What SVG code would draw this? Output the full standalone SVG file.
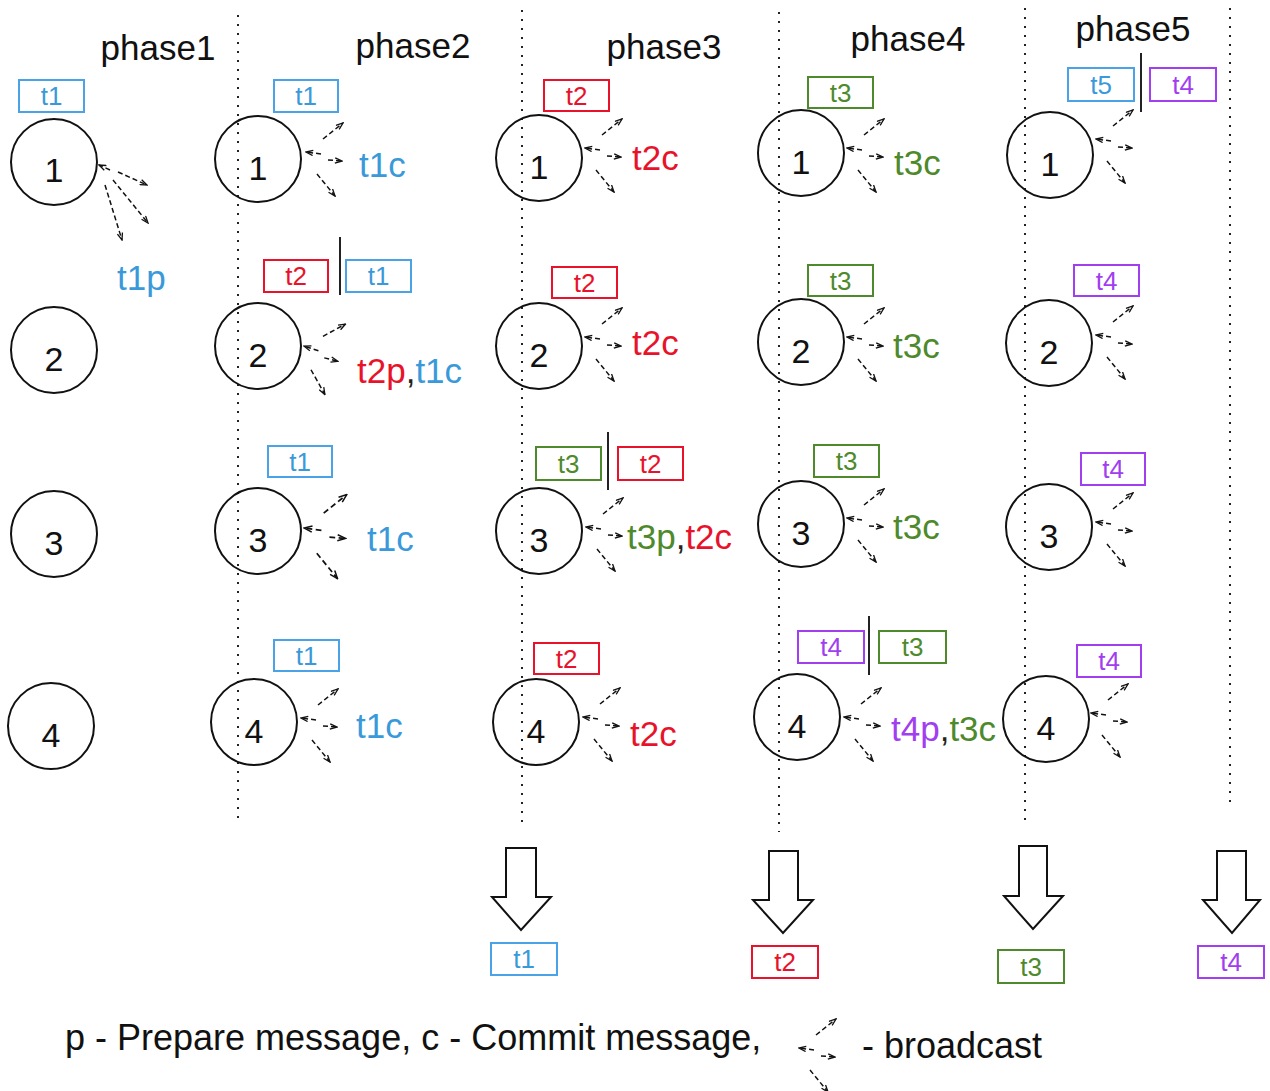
<svg xmlns="http://www.w3.org/2000/svg" width="1270" height="1091" viewBox="0 0 1270 1091">
  <style>
    text { font-family: "Liberation Sans", Arial, sans-serif; }
    .phase { font-size: 35px; fill: #111; text-anchor: middle; }
    .node circle { fill: none; stroke: #111; stroke-width: 2; }
    .num { font-size: 34px; fill: #111; text-anchor: middle; }
    .box { fill: #fff; stroke-width: 2; }
    .lbl { font-size: 26px; text-anchor: middle; }
    .msg { font-size: 35px; }
    .blue { fill: #3a9ad9; }
    .red { fill: #e8132b; }
    .green { fill: #4e8a2c; }
    .purple { fill: #a03ef0; }
    .dark { fill: #222; }
    .sb { stroke: #4aa3e6; }
    .sr { stroke: #e8132b; }
    .sg { stroke: #4e8a2c; }
    .sp { stroke: #a03ef0; }
    .sep { stroke: #222; stroke-width: 2; }
    .divider { stroke: #222; stroke-width: 2; stroke-dasharray: 2 7; }
    .dash { fill: none; stroke: #111; stroke-width: 1.5; stroke-dasharray: 5 3; marker-end: url(#tip); }
    .block { fill: #fff; stroke: #111; stroke-width: 2; stroke-linejoin: miter; }
    .legend { font-size: 36px; fill: #111; }
  </style>
  <defs>
    <marker id="tip" viewBox="0 0 10 8" refX="9" refY="4" markerWidth="9" markerHeight="7" markerUnits="userSpaceOnUse" orient="auto">
      <path d="M1,1 L9,4 L1,7" fill="none" stroke="#111" stroke-width="1.5"/>
    </marker>
    <!-- broadcast glyph: origin at the arrow tip touching the node -->
    <g id="bc">
      <line class="dash" x1="16" y1="2" x2="1" y2="0"/>
      <line class="dash" x1="18" y1="-13" x2="38" y2="-29"/>
      <line class="dash" x1="23" y1="8" x2="37" y2="9"/>
      <line class="dash" x1="12" y1="22" x2="30" y2="44"/>
    </g>
  </defs>

  <rect width="1270" height="1091" fill="#fff"/>

  <!-- phase headings -->
  <g id="headings">
    <text class="phase" x="158" y="60">phase1</text>
    <text class="phase" x="413" y="58">phase2</text>
    <text class="phase" x="664" y="59">phase3</text>
    <text class="phase" x="908" y="51">phase4</text>
    <text class="phase" x="1133" y="41">phase5</text>
  </g>

  <!-- phase dividers -->
  <g id="dividers">
    <line class="divider" x1="238" y1="15" x2="238" y2="825"/>
    <line class="divider" x1="522" y1="10" x2="522" y2="828"/>
    <line class="divider" x1="779" y1="12" x2="779" y2="832"/>
    <line class="divider" x1="1025" y1="8" x2="1025" y2="826"/>
    <line class="divider" x1="1230" y1="8" x2="1230" y2="805"/>
  </g>

  <!-- phase 1 -->
  <g id="p1-n1" class="node">
    <rect class="box sb" x="19" y="80" width="65" height="32"/>
    <text class="lbl blue" x="51.5" y="105">t1</text>
    <circle cx="54" cy="162" r="43"/>
    <text class="num" x="54" y="182">1</text>
    <text class="msg blue" x="117" y="290">t1p</text>
  </g>
  <g id="p1-n2" class="node">
    <circle cx="54" cy="350" r="43"/>
    <text class="num" x="54" y="371">2</text>
  </g>
  <g id="p1-n3" class="node">
    <circle cx="54" cy="534" r="43"/>
    <text class="num" x="54" y="555">3</text>
  </g>
  <g id="p1-n4" class="node">
    <circle cx="51" cy="726" r="43"/>
    <text class="num" x="51" y="747">4</text>
  </g>

  <!-- phase 2 -->
  <g id="p2-n1" class="node">
    <rect class="box sb" x="274" y="80" width="64" height="32"/>
    <text class="lbl blue" x="306" y="105">t1</text>
    <circle cx="258" cy="159" r="43"/>
    <text class="num" x="258" y="180">1</text>
    <text class="msg blue" x="359" y="177">t1c</text>
  </g>
  <g id="p2-n2" class="node">
    <rect class="box sr" x="264" y="260" width="64" height="32"/>
    <text class="lbl red" x="296" y="285">t2</text>
    <line class="sep" x1="340" y1="237" x2="340" y2="295"/>
    <rect class="box sb" x="346" y="260" width="65" height="32"/>
    <text class="lbl blue" x="378.5" y="285">t1</text>
    <circle cx="258" cy="346" r="43"/>
    <text class="num" x="258" y="367">2</text>
    <text class="msg" x="357" y="383"><tspan class="red">t2p</tspan><tspan class="dark">,</tspan><tspan class="blue">t1c</tspan></text>
  </g>
  <g id="p2-n3" class="node">
    <rect class="box sb" x="268" y="446" width="64" height="31"/>
    <text class="lbl blue" x="300" y="471">t1</text>
    <circle cx="258" cy="531" r="43"/>
    <text class="num" x="258" y="552">3</text>
    <text class="msg blue" x="367" y="551">t1c</text>
  </g>
  <g id="p2-n4" class="node">
    <rect class="box sb" x="274" y="640" width="65" height="31"/>
    <text class="lbl blue" x="306.5" y="665">t1</text>
    <circle cx="254" cy="722" r="43"/>
    <text class="num" x="254" y="743">4</text>
    <text class="msg blue" x="356" y="738">t1c</text>
  </g>

  <!-- phase 3 -->
  <g id="p3-n1" class="node">
    <rect class="box sr" x="544" y="80" width="65" height="31"/>
    <text class="lbl red" x="576.5" y="105">t2</text>
    <circle cx="539" cy="158" r="43"/>
    <text class="num" x="539" y="179">1</text>
    <text class="msg red" x="632" y="170">t2c</text>
  </g>
  <g id="p3-n2" class="node">
    <rect class="box sr" x="552" y="267" width="65" height="31"/>
    <text class="lbl red" x="584.5" y="292">t2</text>
    <circle cx="539" cy="346" r="43"/>
    <text class="num" x="539" y="367">2</text>
    <text class="msg red" x="632" y="355">t2c</text>
  </g>
  <g id="p3-n3" class="node">
    <rect class="box sg" x="536" y="447" width="65" height="33"/>
    <text class="lbl green" x="568.5" y="473">t3</text>
    <line class="sep" x1="608" y1="432" x2="608" y2="490"/>
    <rect class="box sr" x="618" y="447" width="65" height="33"/>
    <text class="lbl red" x="650.5" y="473">t2</text>
    <circle cx="539" cy="531" r="43"/>
    <text class="num" x="539" y="552">3</text>
    <text class="msg" x="627" y="549"><tspan class="green">t3p</tspan><tspan class="dark">,</tspan><tspan class="red">t2c</tspan></text>
  </g>
  <g id="p3-n4" class="node">
    <rect class="box sr" x="534" y="643" width="65" height="31"/>
    <text class="lbl red" x="566.5" y="668">t2</text>
    <circle cx="536" cy="722" r="43"/>
    <text class="num" x="536" y="743">4</text>
    <text class="msg red" x="630" y="746">t2c</text>
  </g>

  <!-- phase 4 -->
  <g id="p4-n1" class="node">
    <rect class="box sg" x="808" y="77" width="65" height="31"/>
    <text class="lbl green" x="840.5" y="102">t3</text>
    <circle cx="801" cy="153" r="43"/>
    <text class="num" x="801" y="174">1</text>
    <text class="msg green" x="894" y="175">t3c</text>
  </g>
  <g id="p4-n2" class="node">
    <rect class="box sg" x="808" y="265" width="65" height="31"/>
    <text class="lbl green" x="840.5" y="290">t3</text>
    <circle cx="801" cy="342" r="43"/>
    <text class="num" x="801" y="363">2</text>
    <text class="msg green" x="893" y="358">t3c</text>
  </g>
  <g id="p4-n3" class="node">
    <rect class="box sg" x="814" y="445" width="65" height="32"/>
    <text class="lbl green" x="846.5" y="470">t3</text>
    <circle cx="801" cy="524" r="43"/>
    <text class="num" x="801" y="545">3</text>
    <text class="msg green" x="893" y="539">t3c</text>
  </g>
  <g id="p4-n4" class="node">
    <rect class="box sp" x="798" y="631" width="66" height="32"/>
    <text class="lbl purple" x="831" y="656">t4</text>
    <line class="sep" x1="869" y1="616" x2="869" y2="675"/>
    <rect class="box sg" x="879" y="631" width="67" height="32"/>
    <text class="lbl green" x="912.5" y="656">t3</text>
    <circle cx="797" cy="717" r="43"/>
    <text class="num" x="797" y="738">4</text>
    <text class="msg" x="891" y="741"><tspan class="purple">t4p</tspan><tspan class="dark">,</tspan><tspan class="green">t3c</tspan></text>
  </g>

  <!-- phase 5 -->
  <g id="p5-n1" class="node">
    <rect class="box sb" x="1068" y="68" width="66" height="33"/>
    <text class="lbl blue" x="1101" y="94">t5</text>
    <line class="sep" x1="1141" y1="53" x2="1141" y2="112"/>
    <rect class="box sp" x="1150" y="68" width="66" height="33"/>
    <text class="lbl purple" x="1183" y="94">t4</text>
    <circle cx="1050" cy="155" r="43"/>
    <text class="num" x="1050" y="176">1</text>
  </g>
  <g id="p5-n2" class="node">
    <rect class="box sp" x="1074" y="265" width="65" height="31"/>
    <text class="lbl purple" x="1106.5" y="290">t4</text>
    <circle cx="1049" cy="343" r="43"/>
    <text class="num" x="1049" y="364">2</text>
  </g>
  <g id="p5-n3" class="node">
    <rect class="box sp" x="1081" y="453" width="64" height="32"/>
    <text class="lbl purple" x="1113" y="478">t4</text>
    <circle cx="1049" cy="527" r="43"/>
    <text class="num" x="1049" y="548">3</text>
  </g>
  <g id="p5-n4" class="node">
    <rect class="box sp" x="1077" y="645" width="64" height="32"/>
    <text class="lbl purple" x="1109" y="670">t4</text>
    <circle cx="1046" cy="719" r="43"/>
    <text class="num" x="1046" y="740">4</text>
  </g>

  <!-- committed transactions -->
  <g id="out-t1" class="node">
    <rect class="box sb" x="491" y="943" width="66" height="32"/>
    <text class="lbl blue" x="524" y="968">t1</text>
  </g>
  <g id="out-t2" class="node">
    <rect class="box sr" x="752" y="946" width="66" height="32"/>
    <text class="lbl red" x="785" y="971">t2</text>
  </g>
  <g id="out-t3" class="node">
    <rect class="box sg" x="998" y="950" width="66" height="33"/>
    <text class="lbl green" x="1031" y="976">t3</text>
  </g>
  <g id="out-t4" class="node">
    <rect class="box sp" x="1198" y="946" width="66" height="32"/>
    <text class="lbl purple" x="1231" y="971">t4</text>
  </g>

  <!-- connectors: broadcasts and commit arrows -->
  <g id="connectors">
    <!-- phase 1 prepare broadcast from node 1 -->
    <line class="dash" x1="110" y1="170" x2="99" y2="165"/>
    <line class="dash" x1="118" y1="172" x2="147" y2="185"/>
    <line class="dash" x1="113" y1="180" x2="148" y2="223"/>
    <line class="dash" x1="105" y1="185" x2="122" y2="240"/>

    <use href="#bc" x="305" y="152"/>
    <use href="#bc" transform="translate(303,346) rotate(10)"/>
    <use href="#bc" transform="translate(303,528) scale(1.15)"/>
    <use href="#bc" x="300" y="718"/>

    <use href="#bc" x="584" y="148"/>
    <use href="#bc" x="584" y="337"/>
    <use href="#bc" x="585" y="527"/>
    <use href="#bc" x="582" y="717"/>

    <use href="#bc" x="846" y="148"/>
    <use href="#bc" x="846" y="337"/>
    <use href="#bc" x="846" y="518"/>
    <use href="#bc" x="843" y="717"/>

    <use href="#bc" x="1095" y="139"/>
    <use href="#bc" x="1095" y="335"/>
    <use href="#bc" x="1095" y="522"/>
    <use href="#bc" x="1090" y="713"/>

    <polygon class="block" points="506,848 536,848 536,897 551,897 521,930 492,897 506,897"/>
    <polygon class="block" points="769,851 798,851 798,900 813,900 783,933 753,900 769,900"/>
    <polygon class="block" points="1019,846 1047,846 1047,896 1063,896 1033,929 1004,896 1019,896"/>
    <polygon class="block" points="1217,851 1246,851 1246,900 1260,900 1232,933 1203,900 1217,900"/>
  </g>

  <!-- legend -->
  <g id="legend">
    <text class="legend" x="65" y="1050">p - Prepare message, c - Commit message,</text>
    <use href="#bc" x="798" y="1048"/>
    <text class="legend" x="862" y="1058">- broadcast</text>
  </g>
</svg>
